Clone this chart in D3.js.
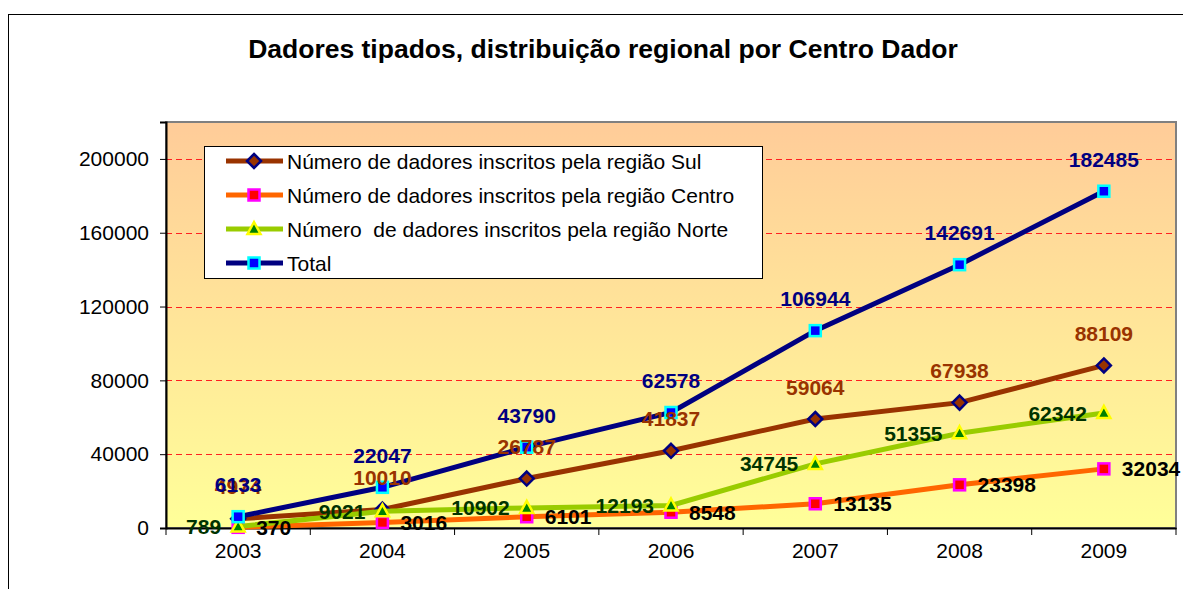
<!DOCTYPE html>
<html lang="pt">
<head>
<meta charset="utf-8">
<title>Dadores tipados</title>
<script src="https://d3js.org/d3.v7.min.js"></script>
<style>
  body { margin: 0; background: #fff; font-family: "Liberation Sans", Arial, sans-serif; }
  .axis text { font-family: "Liberation Sans", Arial, sans-serif; font-size: 21px; fill: #000; }
  .axis path, .axis line { stroke: #000; }
  .grid { stroke: #ff2020; stroke-width: 1; stroke-dasharray: 6,4; }
  .lbl { font-family: "Liberation Sans", Arial, sans-serif; font-size: 21px; font-weight: bold; }
</style>
</head>
<body>
<script>

// data
var years = ["2003", "2004", "2005", "2006", "2007", "2008", "2009"];
var sul    = [4974, 10010, 26787, 41837, 59064, 67938, 88109];
var centro = [370, 3016, 6101, 8548, 13135, 23398, 32034];
var norte  = [789, 9021, 10902, 12193, 34745, 51355, 62342];
var total  = [6133, 22047, 43790, 62578, 106944, 142691, 182485];
var yTicks = [0, 40000, 80000, 120000, 160000, 200000];
var seriesNames = [
  "Número de dadores inscritos pela região Sul",
  "Número de dadores inscritos pela região Centro",
  "Número  de dadores inscritos pela região Norte",
  "Total"
];

var width = 1183, height = 589;
var plot = {left: 166, right: 1176, top: 122, bottom: 528};

var svg = d3.select("body").append("svg")
    .attr("width", width)
    .attr("height", height);

// outer chart frame
svg.append("rect")
    .attr("x", 8.5).attr("y", 14.5)
    .attr("width", 1200).attr("height", 620)
    .attr("fill", "#fff").attr("stroke", "#000");

svg.append("text")
    .attr("x", 603).attr("y", 58)
    .attr("text-anchor", "middle")
    .style("font-size", "26.5px").style("font-weight", "bold")
    .text("Dadores tipados, distribuição regional por Centro Dador");

// gradient background of the plot
var defs = svg.append("defs");
var grad = defs.append("linearGradient")
    .attr("id", "bg").attr("x1", 0).attr("y1", 0).attr("x2", 0).attr("y2", 1);
grad.append("stop").attr("offset", "0%").attr("stop-color", "#ffcc99");
grad.append("stop").attr("offset", "100%").attr("stop-color", "#ffff99");

var x = d3.scaleBand().domain(years).range([plot.left, plot.right]);
var y = d3.scaleLinear().domain([0, 220000]).range([plot.bottom, plot.top]);
var cx = function(d, i) { return x(years[i]) + x.bandwidth() / 2; };

svg.append("rect")
    .attr("x", plot.left).attr("y", plot.top)
    .attr("width", plot.right - plot.left).attr("height", plot.bottom - plot.top)
    .attr("fill", "url(#bg)")
    .attr("stroke", "#808080").attr("stroke-width", 2);

// gridlines
svg.append("g").selectAll("line")
    .data(yTicks.slice(1))
    .enter().append("line")
    .attr("class", "grid")
    .attr("x1", plot.left).attr("x2", plot.right)
    .attr("y1", function(d) { return Math.round(y(d)) + 0.5; })
    .attr("y2", function(d) { return Math.round(y(d)) + 0.5; });

// y axis
var yAxis = svg.append("g")
    .attr("class", "axis")
    .attr("transform", "translate(" + plot.left + ",0)")
    .call(d3.axisLeft(y).tickValues(yTicks).tickSize(6).tickPadding(11).tickFormat(d3.format("d")));
yAxis.select(".domain").attr("stroke", "#404040").attr("stroke-width", 2);

// x axis: labels at band centres, tick marks at band edges
var xAxis = svg.append("g")
    .attr("class", "axis")
    .attr("transform", "translate(0," + plot.bottom + ")")
    .call(d3.axisBottom(x).tickSize(0).tickPadding(15));
xAxis.select(".domain").attr("stroke", "#000").attr("stroke-width", 2);
xAxis.selectAll(".tick text").attr("dy", "0.71em");
xAxis.selectAll("line.edge")
    .data(years.map(function(d) { return x(d); }).concat([plot.right]))
    .enter().append("line")
    .attr("class", "edge")
    .attr("x1", function(d) { return d; }).attr("x2", function(d) { return d; })
    .attr("y1", 0).attr("y2", 7)
    .attr("stroke", "#000");

// series
var series = [
  {name: seriesNames[0], values: sul,    line: "#993300", mark: "diamond",  fill: "#993300", edge: "#000080", label: "#993300", pos: "above"},
  {name: seriesNames[1], values: centro, line: "#ff6600", mark: "square",   fill: "#ff0000", edge: "#ff00ff", label: "#000000", pos: "right"},
  {name: seriesNames[2], values: norte,  line: "#99cc00", mark: "triangle", fill: "#008000", edge: "#ffff00", label: "#003300", pos: "left"},
  {name: seriesNames[3], values: total,  line: "#000080", mark: "square",   fill: "#0000ff", edge: "#00ffff", label: "#000080", pos: "above"}
];

var line = d3.line()
    .x(cx)
    .y(function(d) { return y(d); });

function marker(sel, s) {
  if (s.mark === "diamond") {
    sel.append("path").attr("d", "M0,-7L7,0L0,7L-7,0Z");
  } else if (s.mark === "triangle") {
    sel.append("path").attr("d", "M0,-7L6.5,5L-6.5,5Z");
  } else {
    sel.append("rect").attr("x", -5.5).attr("y", -5.5).attr("width", 11).attr("height", 11);
  }
  sel.selectAll("path, rect")
      .attr("fill", s.fill).attr("stroke", s.edge).attr("stroke-width", 2.5);
}

series.forEach(function(s) {
  svg.append("path")
      .datum(s.values)
      .attr("d", line)
      .attr("fill", "none")
      .attr("stroke", s.line)
      .attr("stroke-width", 5);
  svg.append("g").selectAll("g")
      .data(s.values)
      .enter().append("g")
      .attr("transform", function(d, i) { return "translate(" + cx(d, i) + "," + y(d) + ")"; })
      .each(function() { marker(d3.select(this), s); });
});

// data labels
series.forEach(function(s) {
  svg.append("g").selectAll("text")
      .data(s.values)
      .enter().append("text")
      .attr("class", "lbl")
      .attr("fill", s.label)
      .attr("x", function(d, i) {
        if (s.pos === "right") return cx(d, i) + 18;
        if (s.pos === "left") return cx(d, i) - 17;
        return cx(d, i);
      })
      .attr("y", function(d) { return s.pos === "above" ? y(d) - 32 : y(d); })
      .attr("dy", "0.36em")
      .attr("text-anchor", s.pos === "right" ? "start" : s.pos === "left" ? "end" : "middle")
      .text(function(d) { return d; });
});

// legend
var legend = svg.append("g");
legend.append("rect")
    .attr("x", 204.5).attr("y", 146.5)
    .attr("width", 558).attr("height", 132)
    .attr("fill", "#fff").attr("stroke", "#000");
var rows = legend.selectAll("g.row")
    .data(series)
    .enter().append("g")
    .attr("class", "row")
    .attr("transform", function(d, i) { return "translate(0," + (161 + i * 34) + ")"; });
rows.append("line")
    .attr("x1", 226).attr("x2", 283).attr("y1", 0).attr("y2", 0)
    .attr("stroke", function(d) { return d.line; })
    .attr("stroke-width", 5);
rows.append("g")
    .attr("transform", "translate(254,0)")
    .each(function(d) { marker(d3.select(this), d); });
rows.append("text")
    .attr("x", 287).attr("dy", "0.36em")
    .style("font-size", "21px")
    .style("white-space", "pre")
    .attr("xml:space", "preserve")
    .text(function(d) { return d.name; });

</script>
</body>
</html>
